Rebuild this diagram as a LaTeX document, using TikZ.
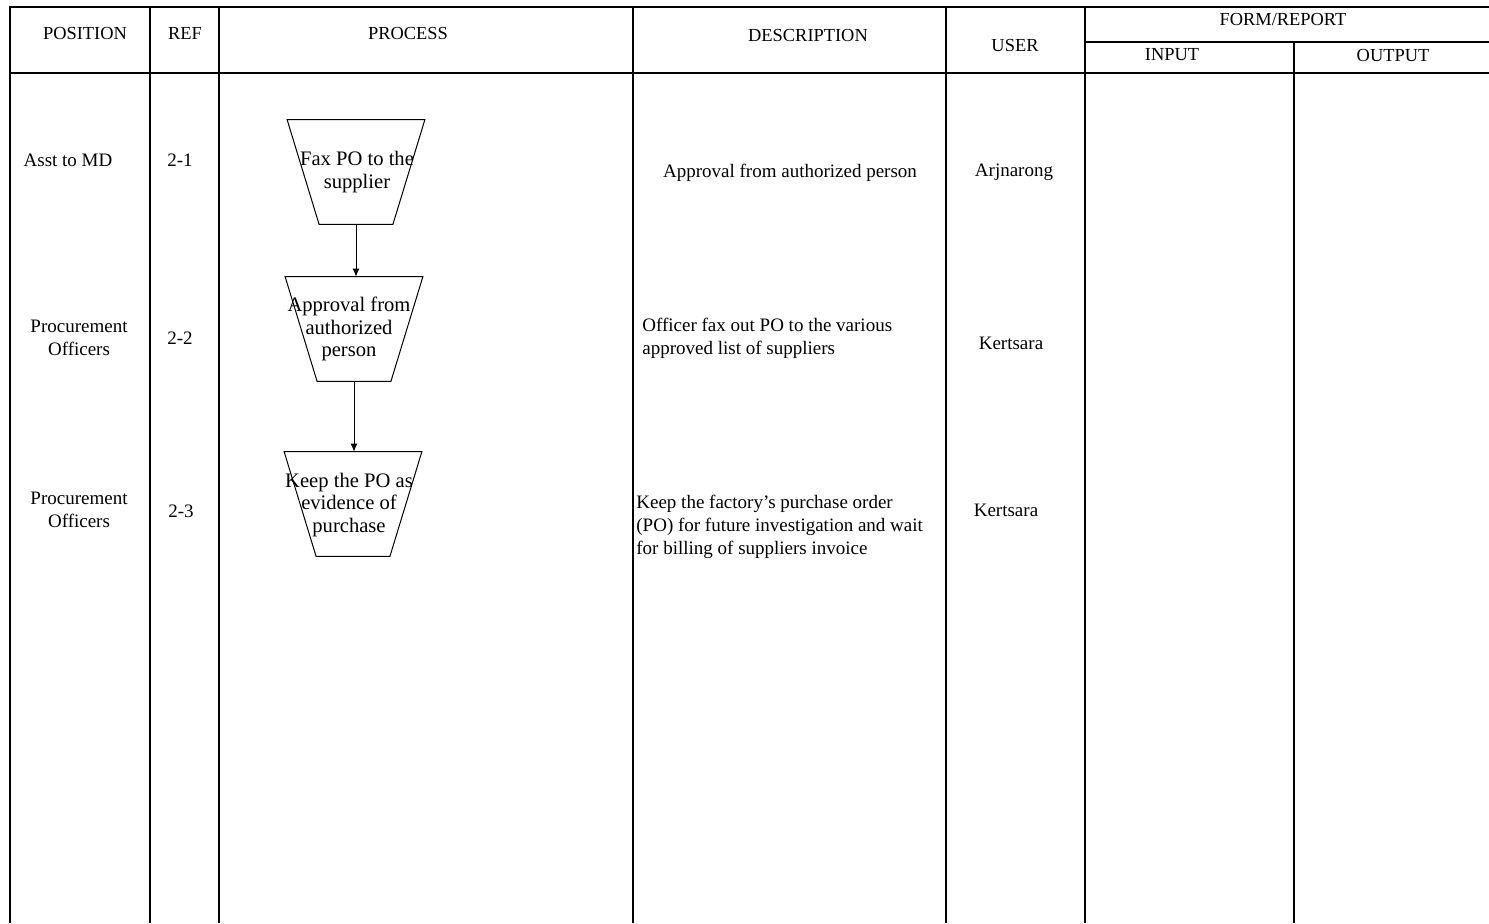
\documentclass[tikz,border=0pt]{standalone}
\usepackage{fontspec}
\setmainfont{Liberation Serif}
\usetikzlibrary{arrows.meta}
\begin{document}
\begin{tikzpicture}[x=0.5pt,y=-0.5pt,
  rule/.style={line width=1pt,black},
  hdr/.style={font=\fontsize{9.2}{11}\selectfont,inner sep=0pt},
  cell/.style={font=\fontsize{9.5}{11.2}\selectfont,align=center,inner sep=0pt},
  desc/.style={font=\fontsize{9.5}{11.5}\selectfont,align=left,anchor=west,inner sep=0pt},
  proc/.style={rectangle,minimum width=36.5pt,minimum height=52pt,inner sep=0pt},
  procedge/.style={line width=0.5pt},
  ptext/.style={font=\fontsize{10.3}{11.3}\selectfont,align=center,inner sep=0pt},
  flow/.style={-{Latex[length=4pt,width=3.5pt]},line width=0.5pt}]
\useasboundingbox (0,0) rectangle (1489,923);

% table rules
\draw[rule] (10,923) -- (10,7) -- (1489,7);
\draw[rule] (10,73) -- (1489,73);
\draw[rule] (1085,42) -- (1489,42);
\foreach \x in {150,219,633,946,1085}
  \draw[rule] (\x,7) -- (\x,923);
\draw[rule] (1294,42) -- (1294,923);

% header
\node[hdr] (hpos)  at (85,33)   {POSITION};
\node[hdr] (href)  at (185,33)  {REF};
\node[hdr] (hproc) at (408,33)  {PROCESS};
\node[hdr] (hdesc) at (808,35)  {DESCRIPTION};
\node[hdr] (huser) at (1015,45) {USER};
\node[hdr] (hform) at (1283,19) {FORM/REPORT};
\node[hdr] (hin)   at (1172,55) {INPUT};
\node[hdr] (hout)  at (1393,55) {OUTPUT};

% position column
\node[cell] (pos1) at (68,160)  {Asst to MD};
\node[cell] (pos2) at (79,338)  {Procurement\\Officers};
\node[cell] (pos3) at (79,510)  {Procurement\\Officers};

% ref column
\node[cell] (ref1) at (180,160) {2-1};
\node[cell] (ref2) at (180,338) {2-2};
\node[cell] (ref3) at (181,511) {2-3};

% process flow: inverted trapezoids (manual operation)
\node[proc] (p1) at (356,172) {};
\node[proc] (p2) at (354,329) {};
\node[proc] (p3) at (353,504) {};
\foreach \p in {p1,p2,p3}
  \draw[procedge] (\p.south west) -- (\p.south east)
    -- ([xshift=16pt]\p.north east) -- ([xshift=-16pt]\p.north west) -- cycle;
\node[ptext] (t1) at (357,172) {Fax PO to the\\supplier};
\node[ptext] (t2) at (349,329) {Approval from\\authorized\\person};
\node[ptext] (t3) at (349,505) {Keep the PO as\\evidence of\\purchase};
\draw[flow] (p1.south) -- (p1.south |- p2.north);
\draw[flow] (p2.south) -- (p2.south |- p3.north);

% description column
\node[cell] (d1) at (790,173) {Approval from authorized person};
\node[desc] (d2) at (642,338) {Officer fax out PO to the various\\approved list of suppliers};
\node[desc] (d3) at (636,527) {Keep the factory's purchase order\\(PO) for future investigation and wait\\for billing of suppliers invoice};

% user column
\node[cell] (u1) at (1014,172) {Arjnarong};
\node[cell] (u2) at (1011,343) {Kertsara};
\node[cell] (u3) at (1006,510) {Kertsara};
\end{tikzpicture}
\end{document}
